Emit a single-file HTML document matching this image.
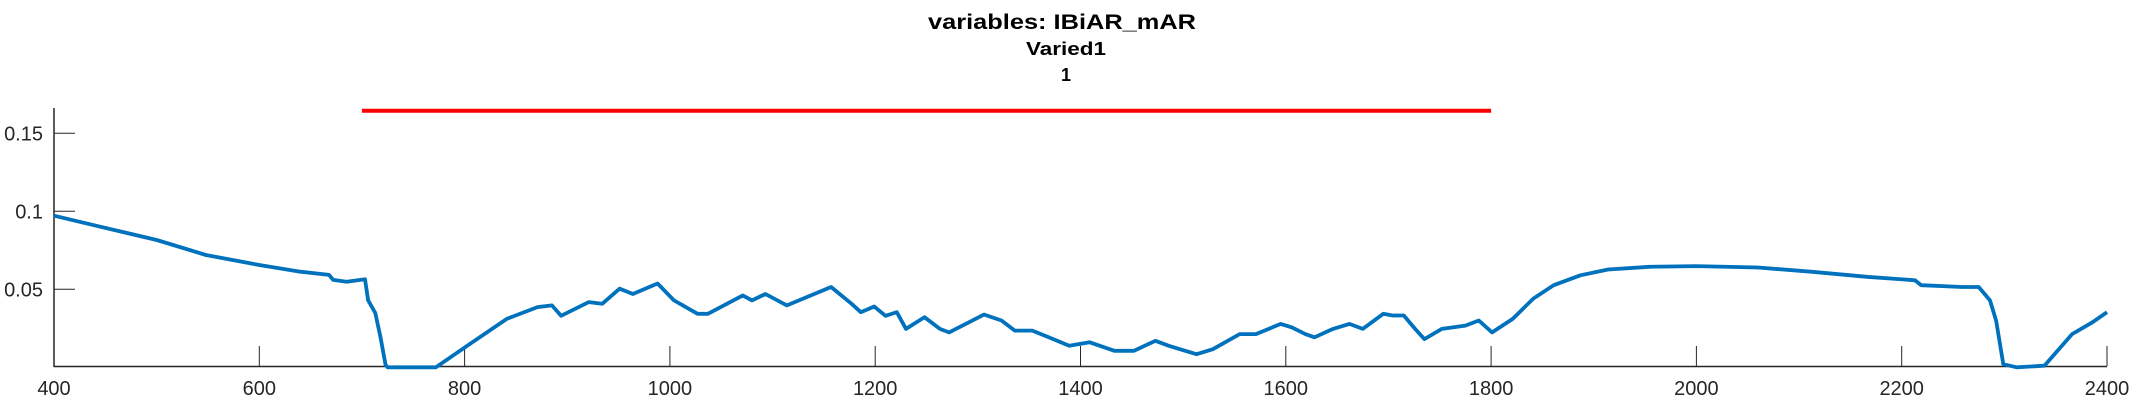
<!DOCTYPE html>
<html><head><meta charset="utf-8">
<style>
html,body{margin:0;padding:0;background:#fff;width:2133px;height:400px;overflow:hidden;}
svg{display:block;font-family:"Liberation Sans",sans-serif;}
</style></head>
<body>
<svg id="chart" width="2133" height="400" viewBox="0 0 2133 400" xmlns="http://www.w3.org/2000/svg">
<text x="1062" y="29" text-anchor="middle" font-size="21" font-weight="bold" fill="#000" textLength="268" lengthAdjust="spacingAndGlyphs">variables: IBiAR_mAR</text>
<text x="1066" y="55" text-anchor="middle" font-size="18" font-weight="bold" fill="#000" textLength="80" lengthAdjust="spacingAndGlyphs">Varied1</text>
<text x="1066" y="81" text-anchor="middle" font-size="18" font-weight="bold" fill="#000">1</text>
<g id="axes"></g>
<g id="marks"></g>
</svg>
<script>
const xTicks = [400,600,800,1000,1200,1400,1600,1800,2000,2200,2400];
const yTicks = [0.05,0.1,0.15];
const yTickLabels = ["0.05","0.1","0.15"];
const segStart = [700];
const segEnd = [1800];
const seriesX = [400,445,500,548,600,640,668,672,685,703,706,713,718,723,725,772,805,841,871,885,894,921,934,951,964,988,1004,1027,1037,1071,1080,1093,1114,1157,1177,1186,1199,1210,1221,1230,1248,1263,1272,1306,1323,1336,1353,1369,1389,1409,1433,1452,1473,1486,1502,1513,1529,1555,1571,1595,1606,1619,1628,1646,1662,1675,1695,1704,1715,1726,1735,1752,1775,1788,1801,1821,1841,1861,1887,1914,1954,2000,2060,2113,2166,2213,2219,2259,2275,2286,2292,2299,2312,2339,2366,2386,2400];
const seriesY = [0.0972,0.0901,0.0816,0.072,0.0656,0.0613,0.0592,0.056,0.0549,0.0564,0.043,0.0348,0.0196,0.0015,0,0,0.0149,0.031,0.0386,0.0397,0.033,0.0418,0.0407,0.0504,0.047,0.0537,0.0429,0.0343,0.0343,0.0461,0.0429,0.047,0.0397,0.0515,0.0407,0.0353,0.039,0.033,0.0353,0.0246,0.0321,0.0246,0.0224,0.0338,0.03,0.0235,0.0235,0.0192,0.0138,0.016,0.0106,0.0106,0.017,0.0138,0.0106,0.0084,0.0116,0.0213,0.0213,0.0278,0.0256,0.0213,0.0192,0.0246,0.0278,0.0246,0.0343,0.0332,0.0332,0.0246,0.0181,0.0246,0.0267,0.03,0.0224,0.031,0.044,0.0526,0.059,0.0627,0.0644,0.0649,0.064,0.0612,0.058,0.0558,0.0526,0.0515,0.0515,0.0429,0.03,0.002,0,0.001,0.0213,0.0289,0.0353];

const NS="http://www.w3.org/2000/svg";
const X0=54, X1=2107, XMIN=400, XMAX=2400;
const Y0=367.3, YMIN=0, PXPER=78/0.05, YTOP=108;
function xs(v){return X0+(v-XMIN)/(XMAX-XMIN)*(X1-X0);}
function ys(v){return Y0-(v-YMIN)*PXPER;}
function mk(tag,attrs,parent){const e=document.createElementNS(NS,tag);for(const k in attrs)e.setAttribute(k,attrs[k]);parent.appendChild(e);return e;}
const axes=document.getElementById('axes');
const marks=document.getElementById('marks');

let l=mk('line',{x1:X0,y1:366.5,x2:X1,y2:366.5,stroke:'#262626','stroke-width':1.5},axes);


l=mk('line',{x1:X0,y1:YTOP,x2:X0,y2:367,stroke:'#262626','stroke-width':1.5},axes);



xTicks.forEach(t=>{
  const x=xs(t);
  const tk=mk('line',{x1:x,y1:366,x2:x,y2:346,stroke:'#262626','stroke-width':1},axes);
  
  
  const tx=mk('text',{x:x,y:395,'text-anchor':'middle','font-size':20,fill:'#262626'},axes);
  tx.textContent=t;
  
  
});
yTicks.forEach((t,i)=>{
  const y=ys(t);
  const tk=mk('line',{x1:X0,y1:y,x2:X0+21,y2:y,stroke:'#262626','stroke-width':1},axes);
  
  
  const tx=mk('text',{x:43,y:y+7,'text-anchor':'end','font-size':20,fill:'#262626'},axes);
  tx.textContent=yTickLabels[i];
  
  
});

segStart.forEach((s,i)=>{
  const r=mk('line',{x1:xs(s),y1:110.7,x2:xs(segEnd[i]),y2:110.7,stroke:'#ff0000','stroke-width':4},marks);
  
  
});

let d='';
seriesX.forEach((v,i)=>{d+=(i?'L':'M')+xs(v).toFixed(1)+' '+ys(seriesY[i]).toFixed(1);});
const p=mk('path',{d:d,fill:'none',stroke:'#0072bd','stroke-width':3.8,'stroke-linejoin':'round'},marks);


</script>
</body></html>
